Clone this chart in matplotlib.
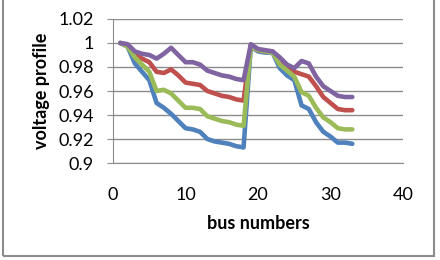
import matplotlib.pyplot as plt
from matplotlib.patches import Rectangle

plt.rcParams['font.family'] = ['Lato', 'DejaVu Sans']

bus = list(range(1, 34))
v_blue = [1.000, 0.997, 0.983, 0.976, 0.969, 0.950, 0.946, 0.941, 0.935, 0.929,
          0.928, 0.926, 0.920, 0.918, 0.917, 0.916, 0.914, 0.913, 0.997, 0.993,
          0.992, 0.992, 0.979, 0.973, 0.969, 0.948, 0.945, 0.934, 0.926, 0.922,
          0.917, 0.917, 0.916]
v_red = [1.000, 0.998, 0.990, 0.987, 0.984, 0.976, 0.975, 0.978, 0.973, 0.967,
         0.966, 0.965, 0.960, 0.958, 0.956, 0.955, 0.953, 0.952, 0.998, 0.994,
         0.993, 0.993, 0.983, 0.978, 0.976, 0.974, 0.972, 0.964, 0.955, 0.950,
         0.945, 0.944, 0.944]
v_green = [1.000, 0.997, 0.988, 0.982, 0.976, 0.960, 0.961, 0.958, 0.952, 0.946,
           0.946, 0.945, 0.939, 0.937, 0.935, 0.934, 0.932, 0.931, 0.997, 0.994,
           0.993, 0.992, 0.982, 0.977, 0.972, 0.959, 0.956, 0.946, 0.938, 0.934,
           0.929, 0.928, 0.928]
v_purple = [1.000, 0.999, 0.993, 0.991, 0.990, 0.987, 0.991, 0.996, 0.990, 0.984,
            0.984, 0.982, 0.977, 0.975, 0.973, 0.972, 0.970, 0.969, 0.999, 0.995,
            0.994, 0.993, 0.988, 0.982, 0.979, 0.985, 0.983, 0.972, 0.964, 0.960,
            0.956, 0.955, 0.955]

x_ticks = [0, 10, 20, 30, 40]
y_ticks = [0.9, 0.92, 0.94, 0.96, 0.98, 1.0, 1.02]
y_labels = ['0.9', '0.92', '0.94', '0.96', '0.98', '1', '1.02']

fig = plt.figure(figsize=(4.4, 2.6), dpi=100)
ax = fig.add_axes([0.257, 0.373, 0.659, 0.554])

for vals, col in [(v_blue, '#4F81BD'), (v_red, '#C0504D'),
                  (v_green, '#9BBB59'), (v_purple, '#8064A2')]:
    ax.plot(bus, vals, color=col, lw=3.3, solid_capstyle='round', solid_joinstyle='round')

ax.set_xlim(0, 40)
ax.set_ylim(0.9, 1.02)
ax.set_xticks(x_ticks)
ax.set_yticks(y_ticks)
ax.set_yticklabels(y_labels)
ax.yaxis.grid(True, color='#8c8c8c', lw=1)
ax.set_axisbelow(True)
for s in ['top', 'right']:
    ax.spines[s].set_visible(False)
for s in ['left', 'bottom']:
    ax.spines[s].set_color('#8c8c8c')
ax.tick_params(axis='y', length=4, color='#8c8c8c', labelsize=13, pad=10)
ax.tick_params(axis='x', length=0, labelsize=13, pad=17)

ax.set_xlabel('bus numbers', fontsize=13, fontweight='bold', labelpad=9)
ax.set_ylabel('voltage profile', fontsize=13, fontweight='bold', labelpad=6)

# outer chart border (top edge sits just outside the picture)
fig.add_artist(Rectangle((0.007, 0.014), 0.98, 1.1, transform=fig.transFigure,
                         fill=False, edgecolor='#8c8c8c', lw=1.5))

fig.savefig('out.png', dpi=100)
